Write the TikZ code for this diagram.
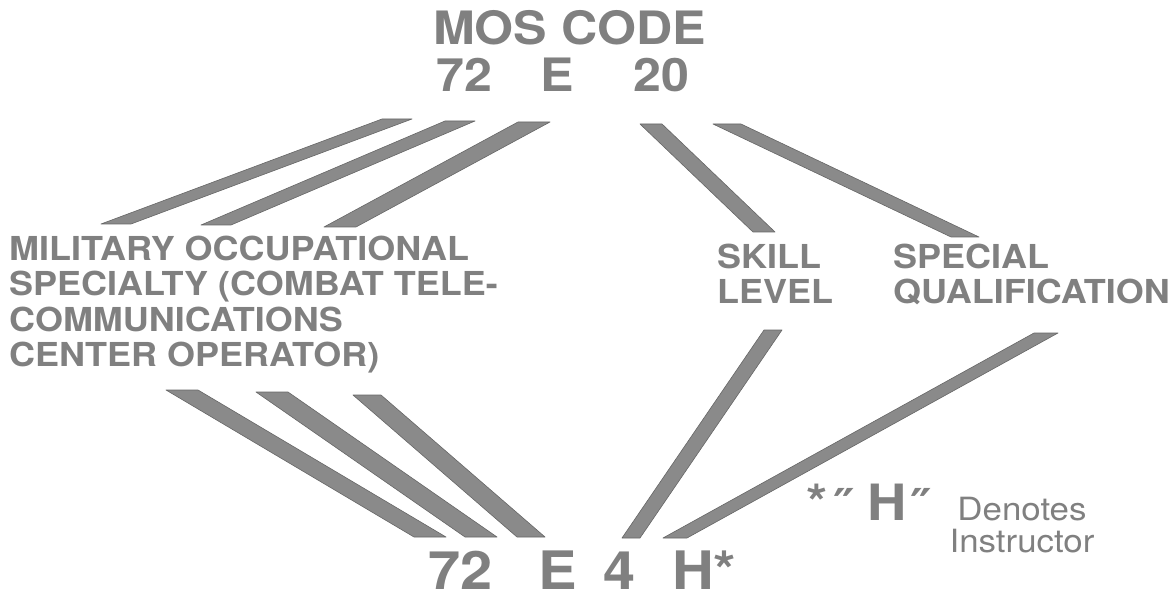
\documentclass[tikz,border=0pt]{standalone}
\usepackage{fontspec}
\setmainfont{TeX Gyre Heros}[FakeStretch=1.09]
\newfontfamily\dvs{DejaVu Sans}[FakeStretch=1.1]
\usetikzlibrary{calc}
\definecolor{ink}{HTML}{808080}
\definecolor{bandc}{HTML}{8A8A8A}
\definecolor{bandedge}{HTML}{666666}
\newcommand\mosband[3]{%
  \filldraw[bandstyle] ($(#1)+(-#3/2,0)$) -- ($(#1)+(#3/2,0)$) -- ($(#2)+(#3/2,0)$) -- ($(#2)+(-#3/2,0)$) -- cycle;}
\newcommand\dprime{{\dvs\bfseries\fontsize{44}{44}\selectfont ″}}
\begin{document}
\begin{tikzpicture}[x=1pt,y=-1pt,
  txt/.style={inner sep=0pt, text=ink, anchor=base west},
  huge/.style={txt, font=\bfseries\fontsize{46}{46}\selectfont},
  label/.style={txt, font=\bfseries\fontsize{33}{35}\selectfont},
  bottom/.style={txt, font=\bfseries\fontsize{53}{53}\selectfont},
  note/.style={txt, font=\fontsize{32}{32}\selectfont, anchor=base},
  bandstyle/.style={fill=bandc, draw=bandedge, line width=0.6pt, line join=round}]
\useasboundingbox (0,0) rectangle (1176,596);
% top code
\node[huge] (title) at (433,45) {MOS CODE};
\node[huge] (t72) at (436,92) {72};
\node[huge] (tE) at (540,92) {E};
\node[huge] (t20) at (633,92) {20};
% labels
\node[label] (mil1) at (9,261) {MILITARY OCCUPATIONAL};
\node[label] (mil2) at (9,296) {SPECIALTY (COMBAT TELE-};
\node[label] (mil3) at (9,331) {COMMUNICATIONS};
\node[label] (mil4) at (9,366) {CENTER OPERATOR)};
\node[label] (skill1) at (717,269) {SKILL};
\node[label] (skill2) at (717,304) {LEVEL};
\node[label] (spec1) at (893,269) {SPECIAL};
\node[label] (spec2) at (893,304) {QUALIFICATION};
% bottom code
\node[bottom] (b72) at (428,589) {72};
\node[bottom] (bE) at (538,589) {E};
\node[bottom] (b4) at (603,589) {4};
\node[bottom] (bH) at (672,589) {H*};
% note
\node[txt, font=\bfseries\fontsize{50}{50}\selectfont] (noteH) at (806,520)
  {*\hspace{6pt}\dprime\hspace{12pt}H\hspace{4pt}\dprime};
\node[note] (den) at (1022,520) {Denotes};
\node[note] (ins) at (1022,552) {Instructor};
% band end coordinates
\coordinate (a1t) at (397,119); \coordinate (a1b) at (116,224);
\coordinate (a2t) at (460,121); \coordinate (a2b) at (216,225);
\coordinate (a3t) at (534,122); \coordinate (a3b) at (340,227);
\coordinate (bt) at (651,124);  \coordinate (bb) at (764,232);
\coordinate (ct) at (727,124);  \coordinate (cb) at (965,237);
\coordinate (d1t) at (182,390); \coordinate (d1b) at (430,537);
\coordinate (d2t) at (272,392); \coordinate (d2b) at (481,537);
\coordinate (d3t) at (367,395); \coordinate (d3b) at (531,537);
\coordinate (et) at (773,330);  \coordinate (eb) at (631,538);
\coordinate (ft) at (1046,333); \coordinate (fb) at (675,538);
\mosband{a1t}{a1b}{30}
\mosband{a2t}{a2b}{30}
\mosband{a3t}{a3b}{32}
\mosband{bt}{bb}{22}
\mosband{ct}{cb}{28}
\mosband{d1t}{d1b}{32}
\mosband{d2t}{d2b}{32}
\mosband{d3t}{d3b}{28}
\mosband{et}{eb}{18}
\mosband{ft}{fb}{24}
\end{tikzpicture}
\end{document}
